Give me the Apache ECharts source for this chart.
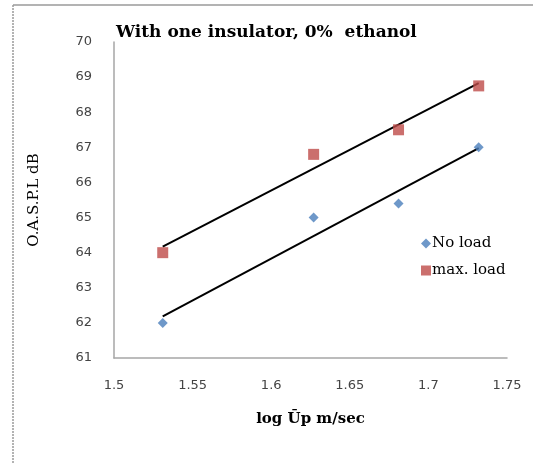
<!DOCTYPE html>
<html><head><meta charset="utf-8">
<script src="https://cdn.jsdelivr.net/npm/echarts@6/dist/echarts.min.js"></script>
<style>html,body{margin:0;padding:0;background:#fff}#c{width:533px;height:464px}</style>
</head><body><div id="c"></div>
<script>
var xLog = [1.531, 1.627, 1.681, 1.732];
var noLoad = [62.0, 65.0, 65.4, 67.0];
var maxLoad = [64.0, 66.8, 67.5, 68.75];
var seriesNames = ['No load', 'max. load'];
var titleText = 'With one insulator, 0%  ethanol';
var yName = 'O.A.S.P.L dB';
var xName = 'log \u016Ap m/sec';

function pairs(xs, ys){ return xs.map(function(x,i){return [x, ys[i]];}); }
function fit(xs, ys){
  var n=xs.length, mx=0, my=0;
  for(var i=0;i<n;i++){mx+=xs[i];my+=ys[i];}
  mx/=n; my/=n;
  var sxy=0,sxx=0;
  for(i=0;i<n;i++){sxy+=(xs[i]-mx)*(ys[i]-my);sxx+=(xs[i]-mx)*(xs[i]-mx);}
  var b=sxy/sxx, a=my-b*mx;
  var x0=Math.min.apply(null,xs), x1=Math.max.apply(null,xs);
  return [[x0,a+b*x0],[x1,a+b*x1]];
}
var serif = '"DejaVu Serif","Liberation Serif",serif';
var sans = '"DejaVu Sans",Verdana,sans-serif';
var chart = echarts.init(document.getElementById('c'), null, {renderer:'canvas'});
chart.setOption({
  animation:false,
  backgroundColor:'#fff',
  title:{text:titleText,left:111,top:19,textStyle:{fontFamily:serif,fontWeight:'bold',fontSize:17,color:'#000'}},
  grid:{left:114,right:26,top:42,bottom:106,containLabel:false},
  legend:{orient:'vertical',left:416,top:231,itemGap:12,itemWidth:10,itemHeight:10,
    data:[{name:seriesNames[0],icon:'diamond'},{name:seriesNames[1],icon:'rect'}],
    textStyle:{fontFamily:serif,fontSize:15,color:'#000',padding:[0,0,0,-4]}},
  xAxis:{type:'value',min:1.5,max:1.75,interval:0.05,
    name:xName,nameLocation:'middle',nameGap:54,
    nameTextStyle:{fontFamily:serif,fontWeight:'bold',fontSize:15,color:'#000'},
    axisLine:{show:true,lineStyle:{color:'#a6a6a6',width:1.5}},axisTick:{show:false},
    axisLabel:{margin:21,fontFamily:sans,fontSize:13,color:'#444'},
    splitLine:{show:false}},
  yAxis:{type:'value',min:61,max:70,interval:1,
    name:yName,nameLocation:'middle',nameGap:72,nameRotate:90,
    nameTextStyle:{fontFamily:serif,fontSize:15,color:'#000'},
    axisLine:{show:true,lineStyle:{color:'#a6a6a6',width:1.5}},axisTick:{show:false},
    axisLabel:{margin:22,fontFamily:sans,fontSize:13,color:'#444'},
    splitLine:{show:false}},
  graphic:[
    {type:'line',shape:{x1:13,y1:5,x2:533,y2:5},style:{stroke:'#9a9a9a',lineWidth:1.5}},
    {type:'line',shape:{x1:13,y1:5,x2:13,y2:464},style:{stroke:'#9a9a9a',lineWidth:1.5,lineDash:[2,1]}}
  ],
  series:[
    {name:seriesNames[0]+' trend',type:'line',data:fit(xLog,noLoad),symbol:'none',lineStyle:{color:'#000',width:2},z:2,silent:true},
    {name:seriesNames[1]+' trend',type:'line',data:fit(xLog,maxLoad),symbol:'none',lineStyle:{color:'#000',width:2},z:2,silent:true},
    {name:seriesNames[0],type:'scatter',data:pairs(xLog,noLoad),symbol:'diamond',symbolSize:10,itemStyle:{color:'#4a7ebb'},z:3},
    {name:seriesNames[1],type:'scatter',data:pairs(xLog,maxLoad),symbol:'rect',symbolSize:11,itemStyle:{color:'#be4b48'},z:3}
  ]
});
</script></body></html>
